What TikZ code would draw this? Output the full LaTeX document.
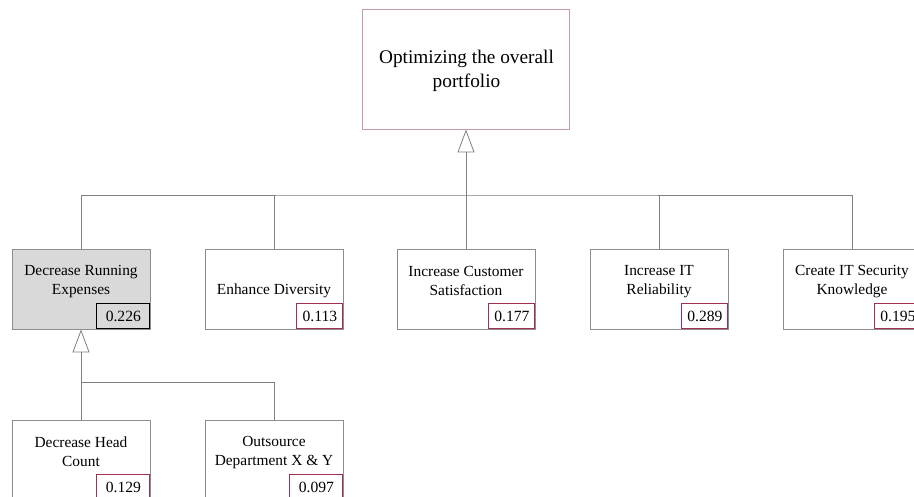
\documentclass[tikz,border=0pt]{standalone}
\usepackage{fontspec}
\setmainfont{Liberation Serif}
\usetikzlibrary{arrows.meta}

\definecolor{boxline}{HTML}{8E8E8E}
\definecolor{wire}{HTML}{808080}
\definecolor{goalline}{HTML}{C79BA8}
\definecolor{weightred}{HTML}{A0304C}
\definecolor{shade}{HTML}{D9D9D9}

\tikzset{
  goal/.style={draw=goalline, line width=0.9pt, fill=white,
    minimum width=207pt, minimum height=120pt, inner sep=0pt},
  goallabel/.style={align=center, inner sep=0pt,
    font=\fontsize{19.3}{24}\selectfont},
  crit/.style={draw=boxline, line width=0.9pt, fill=white,
    minimum width=138pt, minimum height=80pt, inner sep=0pt},
  critsel/.style={crit, fill=shade},
  critlabel/.style={align=center, inner sep=0pt,
    font=\fontsize{15.4}{19}\selectfont},
  weight/.style={draw=weightred, line width=1.2pt, fill=white,
    minimum width=46pt, minimum height=25pt, inner sep=0pt,
    anchor=south east, font=\fontsize{15.6}{19}\selectfont},
  weightwide/.style={weight, minimum width=53pt},
  weightsel/.style={weight, draw=black, fill=shade, minimum width=53pt,
    line width=1.3pt},
  wireline/.style={draw=wire, line width=0.8pt},
  inherits/.style={wireline,
    -{Triangle[open, width=17pt, length=23pt, line width=0.8pt]}},
}

\begin{document}
\begin{tikzpicture}[x=1pt, y=-1pt]
  \useasboundingbox (0,0) rectangle (914,497);
  \clip (0,0) rectangle (914,497);

  % overall goal
  \node[goal] (goal) at (466,69) {};
  \node[goallabel] (goaltxt) at (466.5,71) {Optimizing the overall\\portfolio};

  % first-level criteria
  \node[critsel] (c1) at (81,289) {};
  \node[crit] (c2) at (274,289) {};
  \node[crit] (c3) at (466,289) {};
  \node[crit] (c4) at (659,289) {};
  \node[crit] (c5) at (852,289) {};

  \node[critlabel] (c1t) at (81,281.5) {Decrease Running\\Expenses};
  \node[critlabel] (c2t) at (274,291) {Enhance Diversity};
  \node[critlabel] (c3t) at (466,280.5) {Increase Customer\\Satisfaction};
  \node[critlabel] (c4t) at (659,281.5) {Increase IT\\Reliability};
  \node[critlabel] (c5t) at (852,281.5) {Create IT Security\\Knowledge};

  \node[weightsel] (w1) at (c1.south east) {0.226};
  \node[weight] (w2) at (c2.south east) {0.113};
  \node[weight] (w3) at (c3.south east) {0.177};
  \node[weight] (w4) at (c4.south east) {0.289};
  \node[weight] (w5) at (c5.south east) {0.195};

  % sub-criteria of the running expenses
  \node[crit] (s1) at (81,460) {};
  \node[crit] (s2) at (274,460) {};
  \node[critlabel] (s1t) at (81,452) {Decrease Head\\Count};
  \node[critlabel] (s2t) at (274,452.5) {Outsource\\Department X \& Y};
  \node[weightwide] (v1) at (s1.south east) {0.129};
  \node[weightwide] (v2) at (s2.south east) {0.097};

  % hierarchy links
  \coordinate (hub) at (466,195);
  \draw[wireline] (c1.north) |- (hub) -| (c5.north);
  \draw[wireline] (c2.north) -- (c2.north |- hub);
  \draw[wireline] (c4.north) -- (c4.north |- hub);
  \draw[wireline] (c3.north) -- (hub);
  \draw[inherits] (hub) -- (goal.south);

  \coordinate (hub2) at (81,382);
  \draw[wireline] (s1.north) -- (hub2) -| (s2.north);
  \draw[inherits] (hub2) -- (c1.south);
\end{tikzpicture}
\end{document}
